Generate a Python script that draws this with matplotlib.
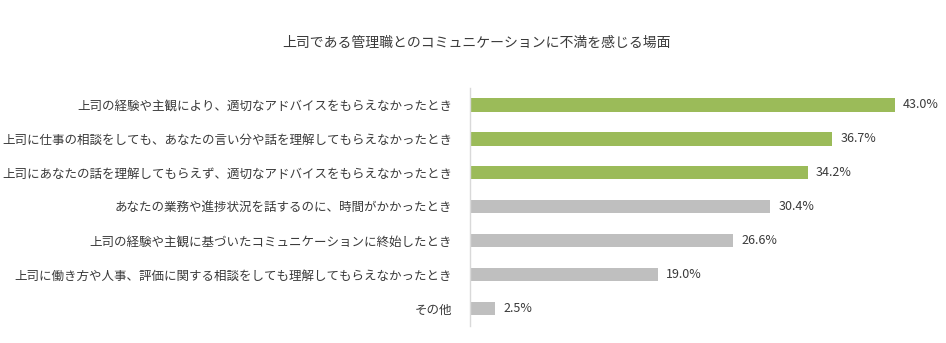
import matplotlib
matplotlib.use("Agg")
import matplotlib.pyplot as plt

plt.rcParams['font.family'] = ['Noto Sans CJK JP', 'DejaVu Sans']

title = "上司である管理職とのコミュニケーションに不満を感じる場面"
categories = [
    "上司の経験や主観により、適切なアドバイスをもらえなかったとき",
    "上司に仕事の相談をしても、あなたの言い分や話を理解してもらえなかったとき",
    "上司にあなたの話を理解してもらえず、適切なアドバイスをもらえなかったとき",
    "あなたの業務や進捗状況を話するのに、時間がかかったとき",
    "上司の経験や主観に基づいたコミュニケーションに終始したとき",
    "上司に働き方や人事、評価に関する相談をしても理解してもらえなかったとき",
    "その他",
]
values = [43.0, 36.7, 34.2, 30.4, 26.6, 19.0, 2.5]
highlight = [True, True, True, False, False, False, False]

green = "#9BBB59"
gray = "#BFBFBF"
text_color = "#3A3A3A"

W, H = 946, 343
fig = plt.figure(figsize=(W / 100, H / 100), dpi=100)
ax = fig.add_axes([470 / W, 1 - 325.5 / H, (944 - 470) / W, (325.5 - 88) / H])

y = list(range(len(categories)))
colors = [green if h else gray for h in highlight]
ax.barh(y, values, height=0.39, color=colors, zorder=2)
ax.set_ylim(len(categories) - 0.5, -0.5)
ax.set_xlim(0, 48)

for yi, v in zip(y, values):
    ax.text(v + 0.85, yi, f"{v:.1f}%", va="center", ha="left",
            fontsize=9, color=text_color)

ax.set_yticks(y)
ax.set_yticklabels(categories, fontsize=9, color=text_color)
ax.tick_params(axis="y", length=0, pad=13)
ax.set_xticks([])
for s in ["top", "right", "bottom"]:
    ax.spines[s].set_visible(False)
ax.spines["left"].set_color("#D9D9D9")
ax.spines["left"].set_linewidth(1.0)

fig.text(476 / W, 1 - 43 / H, title, ha="center", va="center",
         fontsize=10, color=text_color)

fig.savefig("out.png", dpi=100, facecolor="white")
